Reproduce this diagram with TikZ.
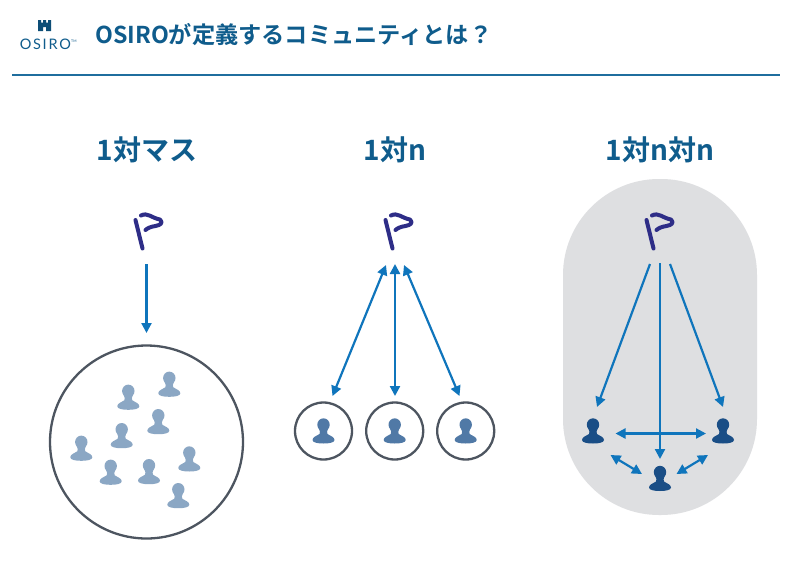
\documentclass[tikz,border=0pt]{standalone}
\usepackage{fontspec}
\setmainfont{Noto Sans CJK JP}[BoldFont={* Bold}]
\newfontfamily\logofont{Lato}
\usetikzlibrary{arrows.meta}
\definecolor{headblue}{HTML}{0F5C8C}
\definecolor{rulecol}{HTML}{1F6E9E}
\definecolor{arrowblue}{HTML}{0F75BC}
\definecolor{flagcol}{HTML}{2E2D87}
\definecolor{ringcol}{HTML}{4D5560}
\definecolor{panelgray}{HTML}{DEDFE1}
\definecolor{pale}{HTML}{8BA7C4}
\definecolor{mid}{HTML}{5079A6}
\definecolor{deep}{HTML}{1A4E86}
\tikzset{
  x=1pt,y=-1pt,
  person/.pic={
    \fill[pic actions] (0,-6.3) ellipse [x radius=6.2,y radius=6.4];
    \fill[pic actions] (-4.8,-3) .. controls (-3.6,0) and (-3,2) .. (-4,3)
      .. controls (-7,5) and (-11,6) .. (-11,9)
      .. controls (-11,11.5) and (-6,12.5) .. (0,12.5)
      .. controls (6,12.5) and (11,11.5) .. (11,9)
      .. controls (11,6) and (7,5) .. (4,3)
      .. controls (3,2) and (3.6,0) .. (4.8,-3) -- cycle;
  },
  flagmark/.pic={
    \draw[flagcol,line width=4pt,line cap=round] (-11,-12) -- (-4,16.5);
    \draw[flagcol,line width=4pt,line cap=round,line join=round]
      (-5.5,-16.5) .. controls (1,-20) and (5,-14) .. (13.5,-12.5)
      .. controls (17,-9) and (14,-7) .. (9,-6)
      .. controls (5,-5.5) and (1,-4) .. (-1,-2);
  },
  ring/.style={circle,draw=ringcol,line width=2.3pt,minimum size=#1,inner sep=0pt},
  link/.style={draw=arrowblue,line width=2.2pt,-{Triangle[length=10pt,width=10pt]}},
  biglink/.style={draw=arrowblue,line width=2.2pt,{Triangle[length=10pt,width=10pt]}-{Triangle[length=10pt,width=10pt]}},
  heading/.style={font=\bfseries\fontsize{28}{30}\selectfont,text=headblue,inner sep=0pt},
}
\begin{document}
\begin{tikzpicture}
\useasboundingbox (0,0) rectangle (800,568);
\fill[white] (0,0) rectangle (800,568);

% logo
\fill[headblue!85!black] (38,20) -- (41,20) -- (41,22.5) -- (43,22.5) -- (43,20) -- (46,20) -- (46,22.5) -- (48,22.5) -- (48,20) -- (51,20) -- (51,31) -- (46,31) -- (46,27) -- (43,27) -- (43,31) -- (38,31) -- cycle;
\node[inner sep=0pt,text=headblue,font=\logofont\fontsize{14.5}{15}\selectfont] (logotext) at (45.3,44.5) {\addfontfeature{LetterSpace=12}OSIRO};
\node[inner sep=0pt,text=headblue,font=\logofont\fontsize{3.5}{4}\selectfont,anchor=south west] (logotm) at (logotext.north east) [yshift=-4pt] {TM};

% title
\node[anchor=west,inner sep=0pt,text=headblue,font=\bfseries\fontsize{23.2}{26}\selectfont] (title) at (95,34.5) {OSIROが定義するコミュニティとは？};
\coordinate (ruleL) at (12,75);
\coordinate (ruleR) at (780,75);
\draw[rulecol,line width=1.5pt] (ruleL) -- (ruleR);

% headings
\node[heading] (h1) at (147,150) {1対マス};
\node[heading] (h2) at (395,150) {1対n};
\node[heading] (h3) at (660,150) {1対n対n};

% panel
\fill[panelgray,rounded corners=96pt] (563,179) rectangle (757,515);

% flags
\pic at (146.5,232) {flagmark};
\pic at (396.5,232) {flagmark};
\pic at (657.5,232) {flagmark};

% group 1
\node[ring=193pt] (big) at (146.5,442) {};
\foreach \px/\py in {128.3/397.3,169.3/384.3,158.3/421.7,121.7/435.7,81.3/448.3,110.7/472.3,149/471.7,189.3/459,178.3/495.7}
  \pic[fill=pale] at (\px,\py) {person};
\coordinate (a0) at (146.5,264);
\coordinate (a1) at (146.5,333);
\draw[link] (a0) -- (a1);

% group 2
\node[ring=57pt] (r1) at (323.5,431) {};
\node[ring=57pt] (r2) at (394.7,431) {};
\node[ring=57pt] (r3) at (465.7,431) {};
\pic[fill=mid] at (r1) {person};
\pic[fill=mid] at (r2) {person};
\pic[fill=mid] at (r3) {person};
\coordinate (b1s) at (386,265);
\coordinate (b2s) at (395,264);
\coordinate (b3s) at (404,265);
\coordinate (b1e) at (332.5,396);
\coordinate (b2e) at (395,396);
\coordinate (b3e) at (459.5,396);
\draw[biglink] (b1s) -- (b1e);
\draw[biglink] (b2s) -- (b2e);
\draw[biglink] (b3s) -- (b3e);

% group 3
\pic[fill=deep] at (593,431) {person};
\pic[fill=deep] at (723,431) {person};
\pic[fill=deep] at (660,478.5) {person};
\coordinate (c1s) at (650,264);
\coordinate (c2s) at (660,263);
\coordinate (c3s) at (670,264);
\coordinate (c1e) at (597,407);
\coordinate (c2e) at (660,459);
\coordinate (c3e) at (723,407);
\draw[link] (c1s) -- (c1e);
\draw[link] (c2s) -- (c2e);
\draw[link] (c3s) -- (c3e);
\coordinate (d1) at (615.5,433.5);
\coordinate (d2) at (706,433.5);
\coordinate (d3) at (610.5,455);
\coordinate (d4) at (642,474);
\coordinate (d5) at (708,455);
\coordinate (d6) at (676.5,474);
\draw[biglink] (d1) -- (d2);
\draw[biglink] (d3) -- (d4);
\draw[biglink] (d5) -- (d6);
\end{tikzpicture}
\end{document}
